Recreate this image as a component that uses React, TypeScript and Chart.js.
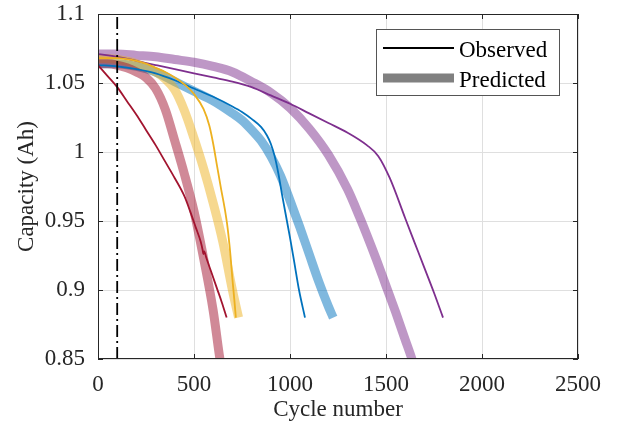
import React, { useEffect, useRef } from 'react';
import { Chart, registerables } from 'chart.js';

Chart.register(...registerables);

// ---- Axis / text data ----
const xTickValues = [0, 500, 1000, 1500, 2000, 2500];
const xTickLabels = ['0', '500', '1000', '1500', '2000', '2500'];
const yTickValues = [0.85, 0.9, 0.95, 1, 1.05, 1.1];
const yTickLabels = ['0.85', '0.9', '0.95', '1', '1.05', '1.1'];
const xTitle = 'Cycle number';
const yTitle = 'Capacity (Ah)';
const legendLabels = ['Observed', 'Predicted'];
const predictionStartCycle = 100;

// ---- Series: red cell ----
const redObsCycles = [0, 50, 100, 150, 200, 250, 300, 350, 400, 450, 480, 510, 535, 545, 549, 553, 565, 590, 620, 645, 670];
const redObsCap = [1.063, 1.055, 1.047, 1.037, 1.027, 1.016, 1.005, 0.993, 0.981, 0.968, 0.957, 0.945, 0.935, 0.929, 0.926, 0.928, 0.923, 0.913, 0.901, 0.891, 0.88];
const redPredCycles = [0, 50, 100, 150, 200, 250, 300, 350, 400, 450, 500, 550, 600, 635, 660];
const redPredCap = [1.064, 1.064, 1.063, 1.061, 1.058, 1.054, 1.046, 1.031, 1.008, 0.984, 0.957, 0.923, 0.885, 0.85, 0.83];

// ---- Series: yellow cell ----
const yelObsCycles = [0, 100, 200, 250, 300, 350, 400, 450, 500, 550, 580, 600, 620, 640, 660, 675, 690, 700, 710, 718];
const yelObsCap = [1.068, 1.068, 1.066, 1.064, 1.061, 1.058, 1.054, 1.049, 1.042, 1.031, 1.019, 1.006, 0.99, 0.974, 0.959, 0.945, 0.925, 0.908, 0.893, 0.88];
const yelPredCycles = [0, 100, 200, 300, 350, 400, 450, 500, 550, 600, 650, 700, 732];
const yelPredCap = [1.068, 1.067, 1.064, 1.058, 1.053, 1.045, 1.03, 1.01, 0.988, 0.963, 0.935, 0.9, 0.88];

// ---- Series: blue cell ----
const bluObsCycles = [0, 100, 200, 300, 400, 500, 600, 700, 750, 800, 850, 880, 900, 920, 940, 960, 984, 1000, 1020, 1047, 1078];
const bluObsCap = [1.063, 1.062, 1.06, 1.057, 1.052, 1.046, 1.04, 1.033, 1.029, 1.024, 1.018, 1.012, 1.006, 0.997, 0.984, 0.968, 0.95, 0.938, 0.922, 0.9, 0.88];
const bluPredCycles = [0, 100, 200, 300, 400, 500, 600, 700, 750, 800, 850, 900, 950, 1000, 1050, 1100, 1150, 1200, 1225];
const bluPredCap = [1.064, 1.064, 1.062, 1.058, 1.051, 1.044, 1.037, 1.028, 1.023, 1.016, 1.008, 0.997, 0.983, 0.965, 0.946, 0.926, 0.906, 0.888, 0.88];

// ---- Series: purple cell ----
const purObsCycles = [0, 100, 200, 300, 400, 500, 600, 700, 800, 900, 1000, 1100, 1200, 1300, 1400, 1460, 1520, 1600, 1650, 1700, 1750, 1797];
const purObsCap = [1.071, 1.069, 1.066, 1.063, 1.06, 1.057, 1.054, 1.051, 1.047, 1.041, 1.035, 1.028, 1.021, 1.014, 1.005, 0.997, 0.981, 0.952, 0.934, 0.916, 0.898, 0.88];
const purPredCycles = [0, 100, 200, 300, 400, 500, 600, 700, 800, 900, 1000, 1100, 1200, 1300, 1365, 1400, 1450, 1500, 1550, 1600, 1635, 1660];
const purPredCap = [1.071, 1.071, 1.07, 1.069, 1.067, 1.065, 1.062, 1.058, 1.051, 1.043, 1.032, 1.017, 0.998, 0.973, 0.952, 0.94, 0.922, 0.903, 0.884, 0.864, 0.85, 0.838];

const FONT = "'Liberation Serif', 'Times New Roman', serif";
const AXIS_COLOR = '#262626';

const pts = (xs: number[], ys: number[]) => xs.map((x, i) => ({ x, y: ys[i] }));

const obs = (label: string, xs: number[], ys: number[], color: string) => ({
  label,
  data: pts(xs, ys),
  borderColor: color,
  borderWidth: 1.8,
  pointRadius: 0,
  fill: false,
  cubicInterpolationMode: 'monotone' as const,
  clip: 0,
});

const pred = (label: string, xs: number[], ys: number[], color: string) => ({
  label,
  data: pts(xs, ys),
  borderColor: color,
  borderWidth: 9,
  borderCapStyle: 'butt' as const,
  borderJoinStyle: 'round' as const,
  pointRadius: 0,
  fill: false,
  cubicInterpolationMode: 'monotone' as const,
  clip: 0,
});

const boxPlugin = {
  id: 'matlabBox',
  afterDatasetsDraw(chart: any) {
    const { ctx, chartArea: a, scales } = chart;
    ctx.save();
    ctx.strokeStyle = AXIS_COLOR;
    ctx.lineWidth = 1;
    ctx.strokeRect(a.left + 0.5, a.top + 0.5, a.right - a.left - 1, a.bottom - a.top - 1);
    const tl = 5;
    ctx.beginPath();
    scales.x.ticks.forEach((t: any) => {
      const px = Math.round(scales.x.getPixelForValue(t.value)) + 0.5;
      ctx.moveTo(px, a.bottom);
      ctx.lineTo(px, a.bottom - tl);
      ctx.moveTo(px, a.top);
      ctx.lineTo(px, a.top + tl);
    });
    scales.y.ticks.forEach((t: any) => {
      const py = Math.round(scales.y.getPixelForValue(t.value)) + 0.5;
      ctx.moveTo(a.left, py);
      ctx.lineTo(a.left + tl, py);
      ctx.moveTo(a.right, py);
      ctx.lineTo(a.right - tl, py);
    });
    ctx.stroke();
    ctx.restore();
  },
  afterDraw(chart: any) {
    const { ctx, chartArea: a } = chart;
    const right = a.right - 18;
    const left = right - 184;
    const top = a.top + 15;
    const h = 67;
    ctx.save();
    ctx.fillStyle = '#ffffff';
    ctx.fillRect(left, top, right - left, h);
    ctx.strokeStyle = '#555555';
    ctx.lineWidth = 1;
    ctx.strokeRect(left + 0.5, top + 0.5, right - left - 1, h - 1);
    const lx0 = left + 7;
    const lx1 = left + 78;
    const y1 = top + 19;
    const y2 = top + 49;
    ctx.beginPath();
    ctx.strokeStyle = '#000000';
    ctx.lineWidth = 2;
    ctx.moveTo(lx0, y1);
    ctx.lineTo(lx1, y1);
    ctx.stroke();
    ctx.beginPath();
    ctx.strokeStyle = '#808080';
    ctx.lineWidth = 9;
    ctx.lineCap = 'butt';
    ctx.moveTo(lx0, y2);
    ctx.lineTo(lx1, y2);
    ctx.stroke();
    ctx.fillStyle = '#000000';
    ctx.font = `23px ${FONT}`;
    ctx.textBaseline = 'alphabetic';
    ctx.textAlign = 'left';
    ctx.fillText(legendLabels[0], left + 83, top + 28);
    ctx.fillText(legendLabels[1], left + 83, top + 58);
    ctx.restore();
  },
};

export default function App() {
  const canvasRef = useRef<HTMLCanvasElement | null>(null);

  useEffect(() => {
    if (!canvasRef.current) return;
    const chart = new Chart(canvasRef.current, {
      type: 'line',
      data: {
        datasets: [
          {
            label: 'start',
            data: [
              { x: predictionStartCycle, y: yTickValues[0] },
              { x: predictionStartCycle, y: yTickValues[yTickValues.length - 1] },
            ],
            borderColor: '#000000',
            borderWidth: 1.8,
            borderDash: [12, 4, 2, 4],
            pointRadius: 0,
            fill: false,
            clip: 0,
          } as any,
          obs('Observed red', redObsCycles, redObsCap, '#A2142F'),
          obs('Observed yellow', yelObsCycles, yelObsCap, '#EDB120'),
          obs('Observed blue', bluObsCycles, bluObsCap, '#0072BD'),
          obs('Observed purple', purObsCycles, purObsCap, '#7E2F8E'),
          pred('Predicted red', redPredCycles, redPredCap, 'rgba(162,20,47,0.5)'),
          pred('Predicted yellow', yelPredCycles, yelPredCap, 'rgba(237,177,32,0.5)'),
          pred('Predicted blue', bluPredCycles, bluPredCap, 'rgba(0,114,189,0.5)'),
          pred('Predicted purple', purPredCycles, purPredCap, 'rgba(126,47,142,0.5)'),
        ] as any,
      },
      options: {
        responsive: false,
        animation: false,
        devicePixelRatio: 1,
        layout: { padding: { left: 0, top: 14, right: 42, bottom: 0 } },
        plugins: { legend: { display: false }, tooltip: { enabled: false } },
        scales: {
          x: {
            type: 'linear',
            min: xTickValues[0],
            max: xTickValues[xTickValues.length - 1],
            afterBuildTicks: (s: any) => {
              s.ticks = xTickValues.map((v) => ({ value: v }));
            },
            afterFit: (s: any) => {
              s.height = 68;
              s.paddingLeft = 0;
              s.paddingRight = 0;
              s.paddingTop = 0;
              s.paddingBottom = 0;
            },
            grid: { color: '#dfdfdf', drawTicks: false, lineWidth: 1 },
            border: { display: false },
            ticks: {
              padding: 12,
              color: AXIS_COLOR,
              font: { family: FONT, size: 23, lineHeight: 1.2 },
              maxRotation: 0,
              autoSkip: false,
              callback: (v: any) => xTickLabels[xTickValues.indexOf(Number(v))] ?? '',
            },
            title: {
              display: true,
              text: xTitle,
              color: AXIS_COLOR,
              font: { family: FONT, size: 23, lineHeight: 1.2 },
              padding: { top: 0, bottom: 3 },
            },
          },
          y: {
            type: 'linear',
            min: yTickValues[0],
            max: yTickValues[yTickValues.length - 1],
            afterBuildTicks: (s: any) => {
              s.ticks = yTickValues.map((v) => ({ value: v }));
            },
            afterFit: (s: any) => {
              s.width = 98;
              s.paddingLeft = 0;
              s.paddingRight = 0;
              s.paddingTop = 0;
              s.paddingBottom = 0;
            },
            grid: { color: '#dfdfdf', drawTicks: false, lineWidth: 1 },
            border: { display: false },
            ticks: {
              padding: 13,
              color: AXIS_COLOR,
              font: { family: FONT, size: 23, lineHeight: 1.0 },
              autoSkip: false,
              callback: (v: any) => {
                const idx = yTickValues.findIndex((t) => Math.abs(t - Number(v)) < 1e-9);
                return idx >= 0 ? yTickLabels[idx] : '';
              },
            },
            title: {
              display: true,
              text: yTitle,
              color: AXIS_COLOR,
              font: { family: FONT, size: 23, lineHeight: 1.2 },
              padding: { top: 13, bottom: 0 },
            },
          },
        },
      } as any,
      plugins: [boxPlugin],
    });
    return () => chart.destroy();
  }, []);

  return (
    <div style={{ position: 'fixed', left: 0, top: 0, width: 620, height: 427, background: '#ffffff' }}>
      <canvas ref={canvasRef} width={620} height={427} style={{ display: 'block' }} />
    </div>
  );
}
